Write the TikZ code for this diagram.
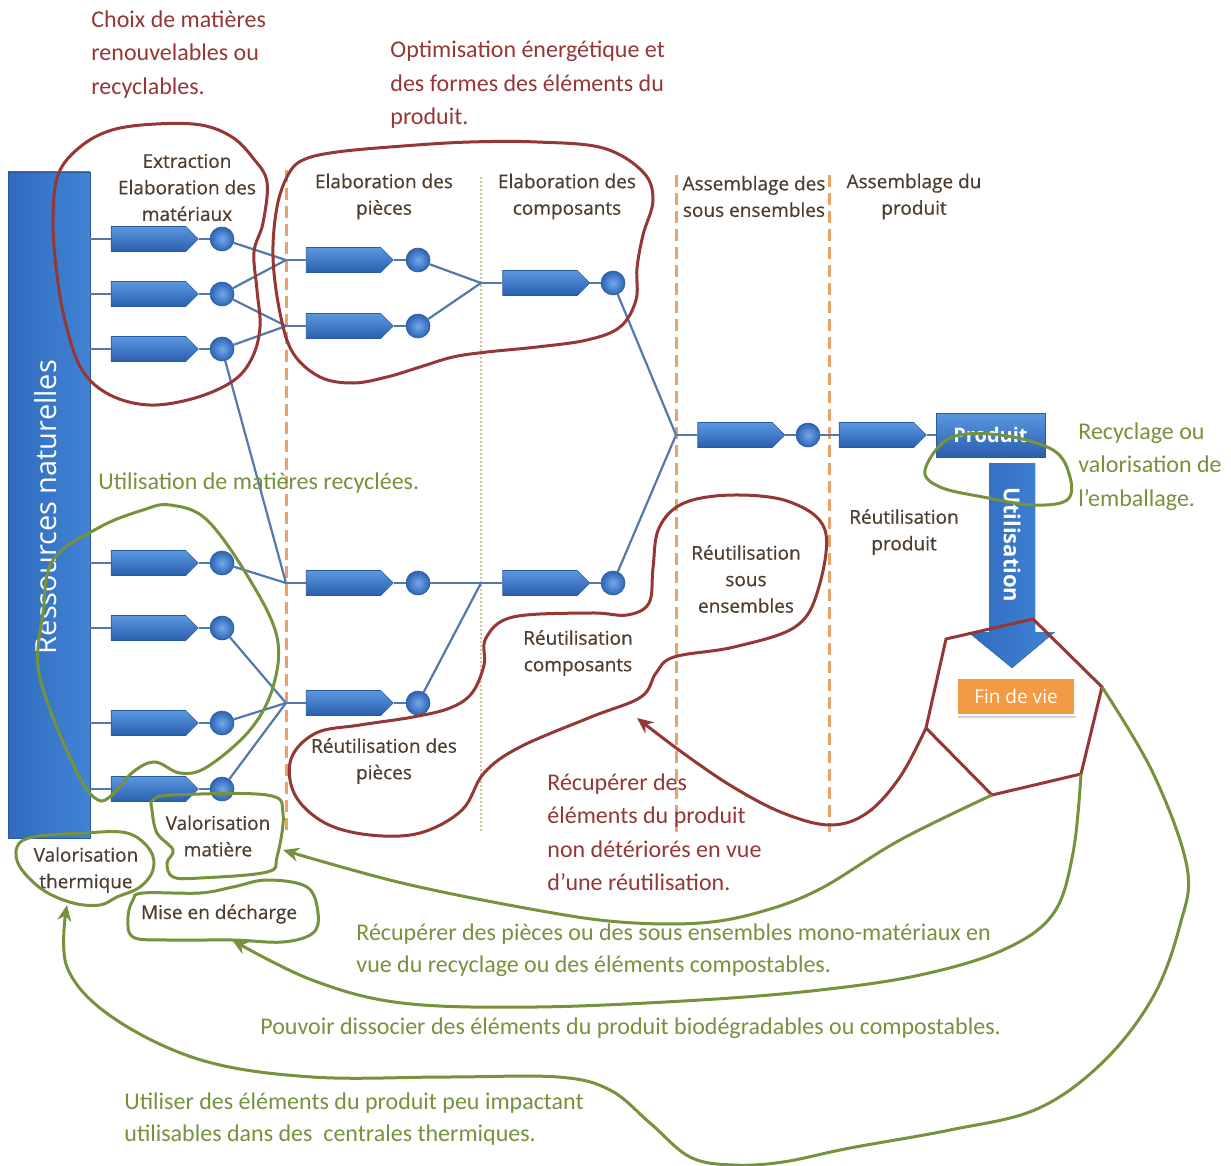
\documentclass[tikz,border=0pt]{standalone}
\usepackage{fontspec}
\setmainfont{Carlito}
\newfontfamily\labfont{Open Sans}
\newfontfamily\stagefont[FakeBold=0.5]{Open Sans}
\usetikzlibrary{shapes.symbols,arrows.meta,shadows}

\definecolor{annred}{HTML}{953735}
\definecolor{anngreen}{HTML}{76923C}
\definecolor{labbrown}{HTML}{4E3D2C}
\definecolor{blueL}{HTML}{5B97E0}
\definecolor{blueD}{HTML}{2A5FAE}
\definecolor{ballin}{HTML}{72A8EA}
\definecolor{ballout}{HTML}{2C64B4}
\definecolor{edgeblue}{HTML}{2A5A9E}
\definecolor{wire}{HTML}{5478AE}
\definecolor{dashor}{HTML}{E8A36B}
\definecolor{dotan}{HTML}{D8C29E}
\definecolor{finor}{HTML}{F39A45}
\definecolor{barL}{HTML}{2F6BBE}
\definecolor{barR}{HTML}{4283D4}

\tikzset{
  chev/.style={signal, signal to=east, minimum width=43.5pt, minimum height=12.5pt,
    inner sep=0pt, draw=edgeblue, line width=0.3pt, top color=blueL, bottom color=blueD},
  knob/.style={circle, minimum size=12pt, inner sep=0pt, draw=edgeblue, line width=0.3pt,
    inner color=ballin, outer color=ballout},
  wireline/.style={draw=wire, line width=1.1pt},
  stage/.style={font=\stagefont\fontsize{9.5}{13.25}\selectfont, text=labbrown,
    align=center, inner sep=0pt},
  noteR/.style={font=\fontsize{12}{16.75}\selectfont, text=annred, align=left,
    anchor=north west, inner sep=0pt},
  noteG/.style={font=\fontsize{12}{16.75}\selectfont, text=anngreen, align=left,
    anchor=north west, inner sep=0pt},
  loopR/.style={draw=annred, line width=1.5pt},
  loopG/.style={draw=anngreen, line width=1.5pt},
  tipped/.style={-{Stealth[length=8pt,width=7pt]}},
  sepdash/.style={draw=dashor, line width=1.5pt, dash pattern=on 6pt off 3pt},
  sepdot/.style={draw=dotan, line width=0.6pt, dash pattern=on 1pt off 1pt},
}

\begin{document}
\begin{tikzpicture}[x=0.5pt,y=-0.5pt]
\fill[white] (0,0) rectangle (1231,1166);
\useasboundingbox (0,0) rectangle (1231,1166);

% stage separators
\draw[sepdash] (286,170) -- (286,832);
\draw[sepdash] (676,175) -- (676,832);
\draw[sepdash] (829,175) -- (829,832);
\draw[sepdot] (481,177) -- (481,832);

% natural resources bar
\node[draw=edgeblue, line width=0.3pt, left color=barL, right color=barR,
      minimum width=41pt, minimum height=333pt, inner sep=0pt] (res) at (49,505) {};
\node[rotate=90, text=white, font=\labfont\fontsize{14.5}{14.5}\selectfont] (restxt) at (46,507) {Ressources naturelles};

% stage headings
\node[stage] (h1) at (187,187.5) {Extraction\\Elaboration des\\matériaux};
\node[stage] (h2) at (384,196.5) {Elaboration des\\pièces};
\node[stage] (h3) at (567,196.5) {Elaboration des\\composants};
\node[stage] (h4) at (754,196.5) {Assemblage des\\sous ensembles};
\node[stage] (h5) at (914,196.5) {Assemblage du\\produit};

% material flows
\foreach \i/\y in {1/239,2/294,3/349,4/563,5/628,6/723,7/789}{
  \node[chev] (e\i) at (148.5,\y) {};
  \node[knob] (o\i) at (222,\y) {};
  \draw[wireline] (res.east |- e\i.west) -- (e\i.west);
  \draw[wireline] (e\i) -- (o\i);
}
\foreach \i/\y in {1/260,2/326,3/583,4/703}{
  \node[chev] (p\i) at (343.5,\y) {};
  \node[knob] (q\i) at (418,\y) {};
  \draw[wireline] (p\i) -- (q\i);
}
\node[chev] (k1) at (540,283) {};
\node[knob] (r1) at (613,283) {};
\node[chev] (k2) at (540,583) {};
\node[knob] (r2) at (613,583) {};
\node[chev] (a1) at (735,435) {};
\node[knob] (s1) at (808,435) {};
\node[chev] (a2) at (876.5,435) {};
\node[draw=edgeblue, line width=0.3pt, top color=blueL, bottom color=blueD,
      minimum width=54.5pt, minimum height=22pt, inner sep=0pt, text=white,
      font=\labfont\bfseries\fontsize{10}{10}\selectfont] (prod) at (990.5,435) {Produit};

\coordinate (j1) at (286,260);
\coordinate (j2) at (286,326);
\coordinate (j3) at (286,583);
\coordinate (j4) at (286,703);
\coordinate (j5) at (481,283);
\coordinate (j6) at (481,583);
\coordinate (j7) at (676,435);

\draw[wireline] (o1) -- (j1);
\draw[wireline] (o2) -- (j1);
\draw[wireline] (o2) -- (j2);
\draw[wireline] (o3) -- (j2);
\draw[wireline] (o3) -- (j3);
\draw[wireline] (o4) -- (j3);
\draw[wireline] (o5) -- (j4);
\draw[wireline] (o6) -- (j4);
\draw[wireline] (o7) -- (j4);
\draw[wireline] (j1) -- (p1.west);
\draw[wireline] (j2) -- (p2.west);
\draw[wireline] (j3) -- (p3.west);
\draw[wireline] (j4) -- (p4.west);
\draw[wireline] (q1) -- (j5);
\draw[wireline] (q2) -- (j5);
\draw[wireline] (j5) -- (k1.west);
\draw[wireline] (q3) -- (j6);
\draw[wireline] (q4) -- (j6);
\draw[wireline] (j6) -- (k2.west);
\draw[wireline] (k1) -- (r1);
\draw[wireline] (k2) -- (r2);
\draw[wireline] (r1) -- (j7);
\draw[wireline] (r2) -- (j7);
\draw[wireline] (j7) -- (a1.west);
\draw[wireline] (a1) -- (s1);
\draw[wireline] (s1) -- (a2);
\draw[wireline] (a2) -- (prod);

% use phase and end of life
\fill[left color=barL, right color=barR] (989,463) -- (1035,463) -- (1035,632) -- (1055,632)
  -- (1012,668) -- (968,632) -- (989,632) -- cycle;
\node[rotate=-90, text=white, font=\labfont\bfseries\fontsize{11}{11}\selectfont] (usage) at (1012,545) {Utilisation};
\node[fill=finor, draw=white, line width=1pt, minimum width=59pt, minimum height=18.5pt,
      inner sep=0pt, text=white, font=\labfont\fontsize{9.5}{9.5}\selectfont,
      drop shadow={opacity=0.35, shadow xshift=0.6pt, shadow yshift=-1.6pt}] (fdv) at (1016,696.5) {Fin de vie};

% reuse and recovery stages
\node[stage] (u1) at (904,532) {Réutilisation\\produit};
\node[stage] (u2) at (746,579) {Réutilisation\\sous\\ensembles};
\node[stage] (u3) at (578,653) {Réutilisation\\composants};
\node[stage] (u4) at (384,761) {Réutilisation des\\pièces};
\node[stage] (u5) at (218,836) {Valorisation\\matière};
\node[stage] (u6) at (86,870) {Valorisation\\thermique};
\node[stage] (u7) at (219,914) {Mise en décharge};

% design notes
\node[noteR] (n1) at (91,10) {Choix de matières\\renouvelables ou\\recyclables.};
\node[noteR] (n2) at (390,41) {Optimisation énergétique et\\des formes des éléments du\\produit.};
\node[noteR] (n3) at (547,773) {Récupérer des\\éléments du produit\\non détériorés en vue\\d’une réutilisation.};
\node[noteG] (g1) at (98,472) {Utilisation de matières recyclées.};
\node[noteG] (g2) at (1078,422) {Recyclage ou\\valorisation de\\l’emballage.};
\node[noteG, font=\fontsize{12}{16}\selectfont] (g3) at (356,923) {Récupérer des pièces ou des sous ensembles mono-matériaux en\\vue du recyclage ou des éléments compostables.};
\node[noteG] (g4) at (260,1017) {Pouvoir dissocier des éléments du produit biodégradables ou compostables.};
\node[noteG, font=\fontsize{12}{16}\selectfont] (g5) at (124,1092) {Utiliser des éléments du produit peu impactant\\utilisables dans des\ \ centrales thermiques.};

% hand-drawn outlines (red)
\draw[loopR] plot[smooth cycle, tension=0.6] coordinates {
  (80,147) (112,130) (156,124) (201,125) (232,137) (253,158) (267,182) (263,223)
  (254,252) (257,290) (260,327) (252,358) (233,381) (195,398) (150,405) (110,395)
  (82,370) (66,325) (57,275) (53,222) (58,175)};
\draw[loopR] plot[smooth cycle, tension=0.6] coordinates {
  (303,160) (337,152) (403,146) (470,142) (537,142) (603,148) (643,172) (653,200)
  (643,235) (637,268) (636,300) (620,327) (587,340) (537,347) (487,352) (453,357)
  (420,367) (387,377) (353,383) (320,377) (293,353) (280,313) (273,257) (277,207)
  (288,175)};
\draw[loopR] plot[smooth cycle, tension=0.6] coordinates {
  (734,495) (790,502) (825,530) (818,590) (795,627) (734,647) (674,657) (656,673)
  (641,697) (591,717) (520,747) (484,773) (462,810) (420,833) (370,835) (325,823)
  (295,795) (291,759) (316,733) (360,725) (413,717) (450,708) (472,693) (484,665)
  (486,638) (513,617) (591,613) (627,615) (649,603) (653,568) (659,528) (684,503)};

% end-of-life outline
\coordinate (pv1) at (1033,619);
\coordinate (pv2) at (946,639);
\coordinate (pv3) at (926,728);
\coordinate (pv4) at (992,795);
\coordinate (pv5) at (1081,774);
\coordinate (pv6) at (1102,687);
\draw[loopR, line join=miter] (pv1) -- (pv2) -- (pv3) -- (pv4) -- (pv5) -- (pv6) -- cycle;
\coordinate (reuse) at (637,718);
\draw[loopR, tipped] plot[smooth, tension=0.6] coordinates {
  (pv3) (900,777) (867,813) (830,825) (783,813) (733,787) (683,753) (reuse)};

% hand-drawn outlines (green)
\draw[loopG] plot[smooth cycle, tension=0.6] coordinates {
  (250,730) (207,767) (180,773) (155,762) (133,772) (112,795) (98,800) (80,778)
  (52,715) (38,665) (43,613) (53,560) (100,527) (143,510) (170,505) (207,520)
  (250,580) (277,637) (273,687)};
\draw[loopG] plot[smooth cycle, tension=0.6] coordinates {
  (153,800) (173,795) (267,795) (283,813) (277,857) (267,872) (200,878) (173,877)
  (167,863) (173,850) (157,833) (152,810)};
\draw[loopG] plot[smooth cycle, tension=0.6] coordinates {
  (17,847) (33,837) (83,833) (127,833) (150,850) (153,870) (140,887) (117,897)
  (100,905) (73,903) (43,890) (20,867)};
\draw[loopG] plot[smooth cycle, tension=0.6] coordinates {
  (133,900) (143,893) (200,893) (233,887) (267,880) (307,887) (318,913) (313,933)
  (283,942) (233,940) (167,940) (133,937) (128,917)};
\draw[loopG] plot[smooth cycle, tension=0.6] coordinates {
  (925,470) (950,438) (1000,435) (1053,450) (1070,477) (1067,500) (1033,505)
  (983,497) (940,487)};

% recovery paths
\coordinate (tmat) at (283,850);
\coordinate (tdech) at (232,940);
\coordinate (ttherm) at (67,905);
\draw[loopG, tipped] plot[smooth, tension=0.6] coordinates {
  (pv4) (900,840) (820,889) (760,912) (700,923) (620,922) (536,910) (402,883) (tmat)};
\draw[loopG, tipped] plot[smooth, tension=0.6] coordinates {
  (pv5) (1073,853) (1053,914) (1003,950) (920,975) (820,990) (700,1000) (536,1007)
  (402,1003) (312,980) (tdech)};
\draw[loopG, tipped] plot[smooth, tension=0.6] coordinates {
  (pv6) (1153,773) (1187,867) (1180,925) (1153,997) (1103,1062) (1037,1109) (950,1130)
  (850,1148) (783,1162) (733,1165) (690,1157) (650,1123) (610,1090) (558,1077)
  (446,1077) (312,1077) (201,1060) (112,1017) (67,967) (ttherm)};
\end{tikzpicture}
\end{document}
